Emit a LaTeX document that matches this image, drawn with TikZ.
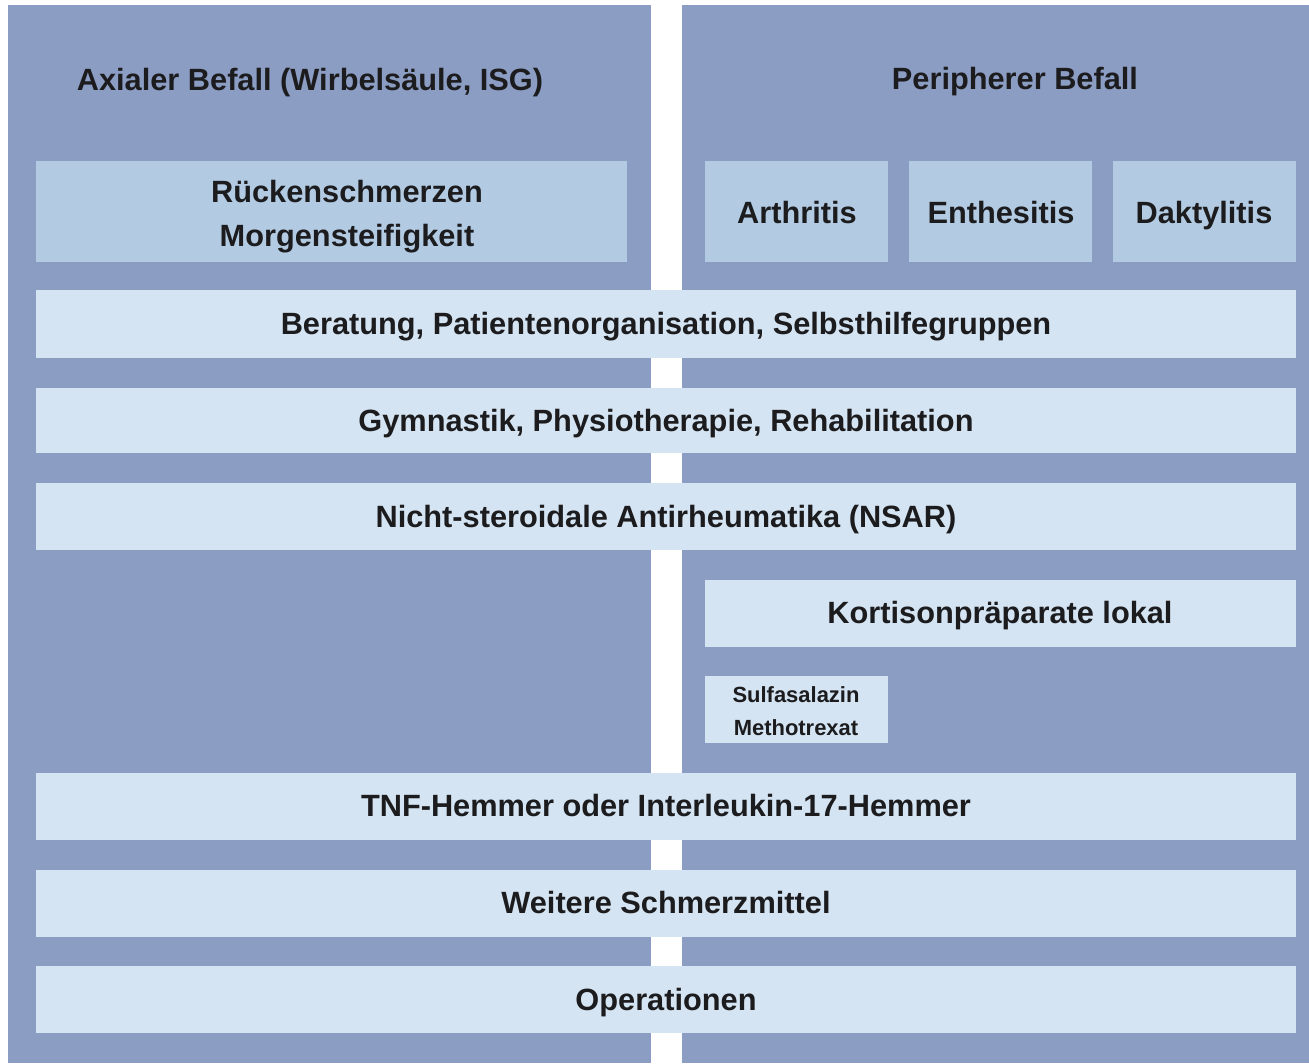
\documentclass[tikz,border=0pt]{standalone}
\usepackage{fontspec}
\setmainfont{Liberation Sans}

\definecolor{panelblue}{HTML}{8C9DC3}
\definecolor{headblue}{HTML}{B2CBE3}
\definecolor{bandblue}{HTML}{D4E4F2}
\definecolor{inkdark}{HTML}{1C1C1E}

\tikzset{
  panel/.style={fill=panelblue},
  headbox/.style={fill=headblue},
  bandbox/.style={fill=bandblue},
  twoline/.style={text=inkdark, inner sep=0, align=center, font=\fontsize{17.5}{25}\selectfont\bfseries},
  lbl/.style={twoline, text height=12.5pt, text depth=0pt},
  smalllbl/.style={twoline, font=\fontsize{12.5}{18.8}\selectfont\bfseries}
}

\begin{document}
\begin{tikzpicture}[x=0.02cm, y=-0.02cm]
\useasboundingbox (0,0) rectangle (1309,1063);
\fill[white] (0,0) rectangle (1309,1063);

% two columns
\fill[panel] (8,5) rectangle (651,1063);
\fill[panel] (682,5) rectangle (1309,1063);
\node[lbl] (axial) at (310,80) {Axialer Befall (Wirbelsäule, ISG)};
\node[lbl] (periph) at (1015,79) {Peripherer Befall};

% symptoms
\fill[headbox] (36,161) rectangle (627,262);
\fill[headbox] (705,161) rectangle (888,262);
\fill[headbox] (909,161) rectangle (1092,262);
\fill[headbox] (1113,161) rectangle (1296,262);
\node[twoline] (ruecken) at (347,217) {Rückenschmerzen\\Morgensteifigkeit};
\node[lbl] (arthr) at (797,213) {Arthritis};
\node[lbl] (enthes) at (1001,213) {Enthesitis};
\node[lbl] (daktyl) at (1204,213) {Daktylitis};

% therapy steps
\fill[bandbox] (36,290) rectangle (1296,358);
\fill[bandbox] (36,388) rectangle (1296,453);
\fill[bandbox] (36,483) rectangle (1296,550);
\fill[bandbox] (705,580) rectangle (1296,647);
\fill[bandbox] (705,676) rectangle (888,743);
\fill[bandbox] (36,773) rectangle (1296,840);
\fill[bandbox] (36,870) rectangle (1296,937);
\fill[bandbox] (36,966) rectangle (1296,1033);

\node[lbl] (berat) at (666,324) {Beratung, Patientenorganisation, Selbsthilfegruppen};
\node[lbl] (gymn) at (666,421) {Gymnastik, Physiotherapie, Rehabilitation};
\node[lbl] (nsar) at (666,517) {Nicht-steroidale Antirheumatika (NSAR)};
\node[lbl] (korti) at (1000,613) {Kortisonpräparate lokal};
\node[smalllbl] (sulfa) at (796,711) {Sulfasalazin\\Methotrexat};
\node[lbl] (tnf) at (666,806) {TNF-Hemmer oder Interleukin-17-Hemmer};
\node[lbl] (schmerz) at (666,903) {Weitere Schmerzmittel};
\node[lbl] (opera) at (666,1000) {Operationen};
\end{tikzpicture}
\end{document}
